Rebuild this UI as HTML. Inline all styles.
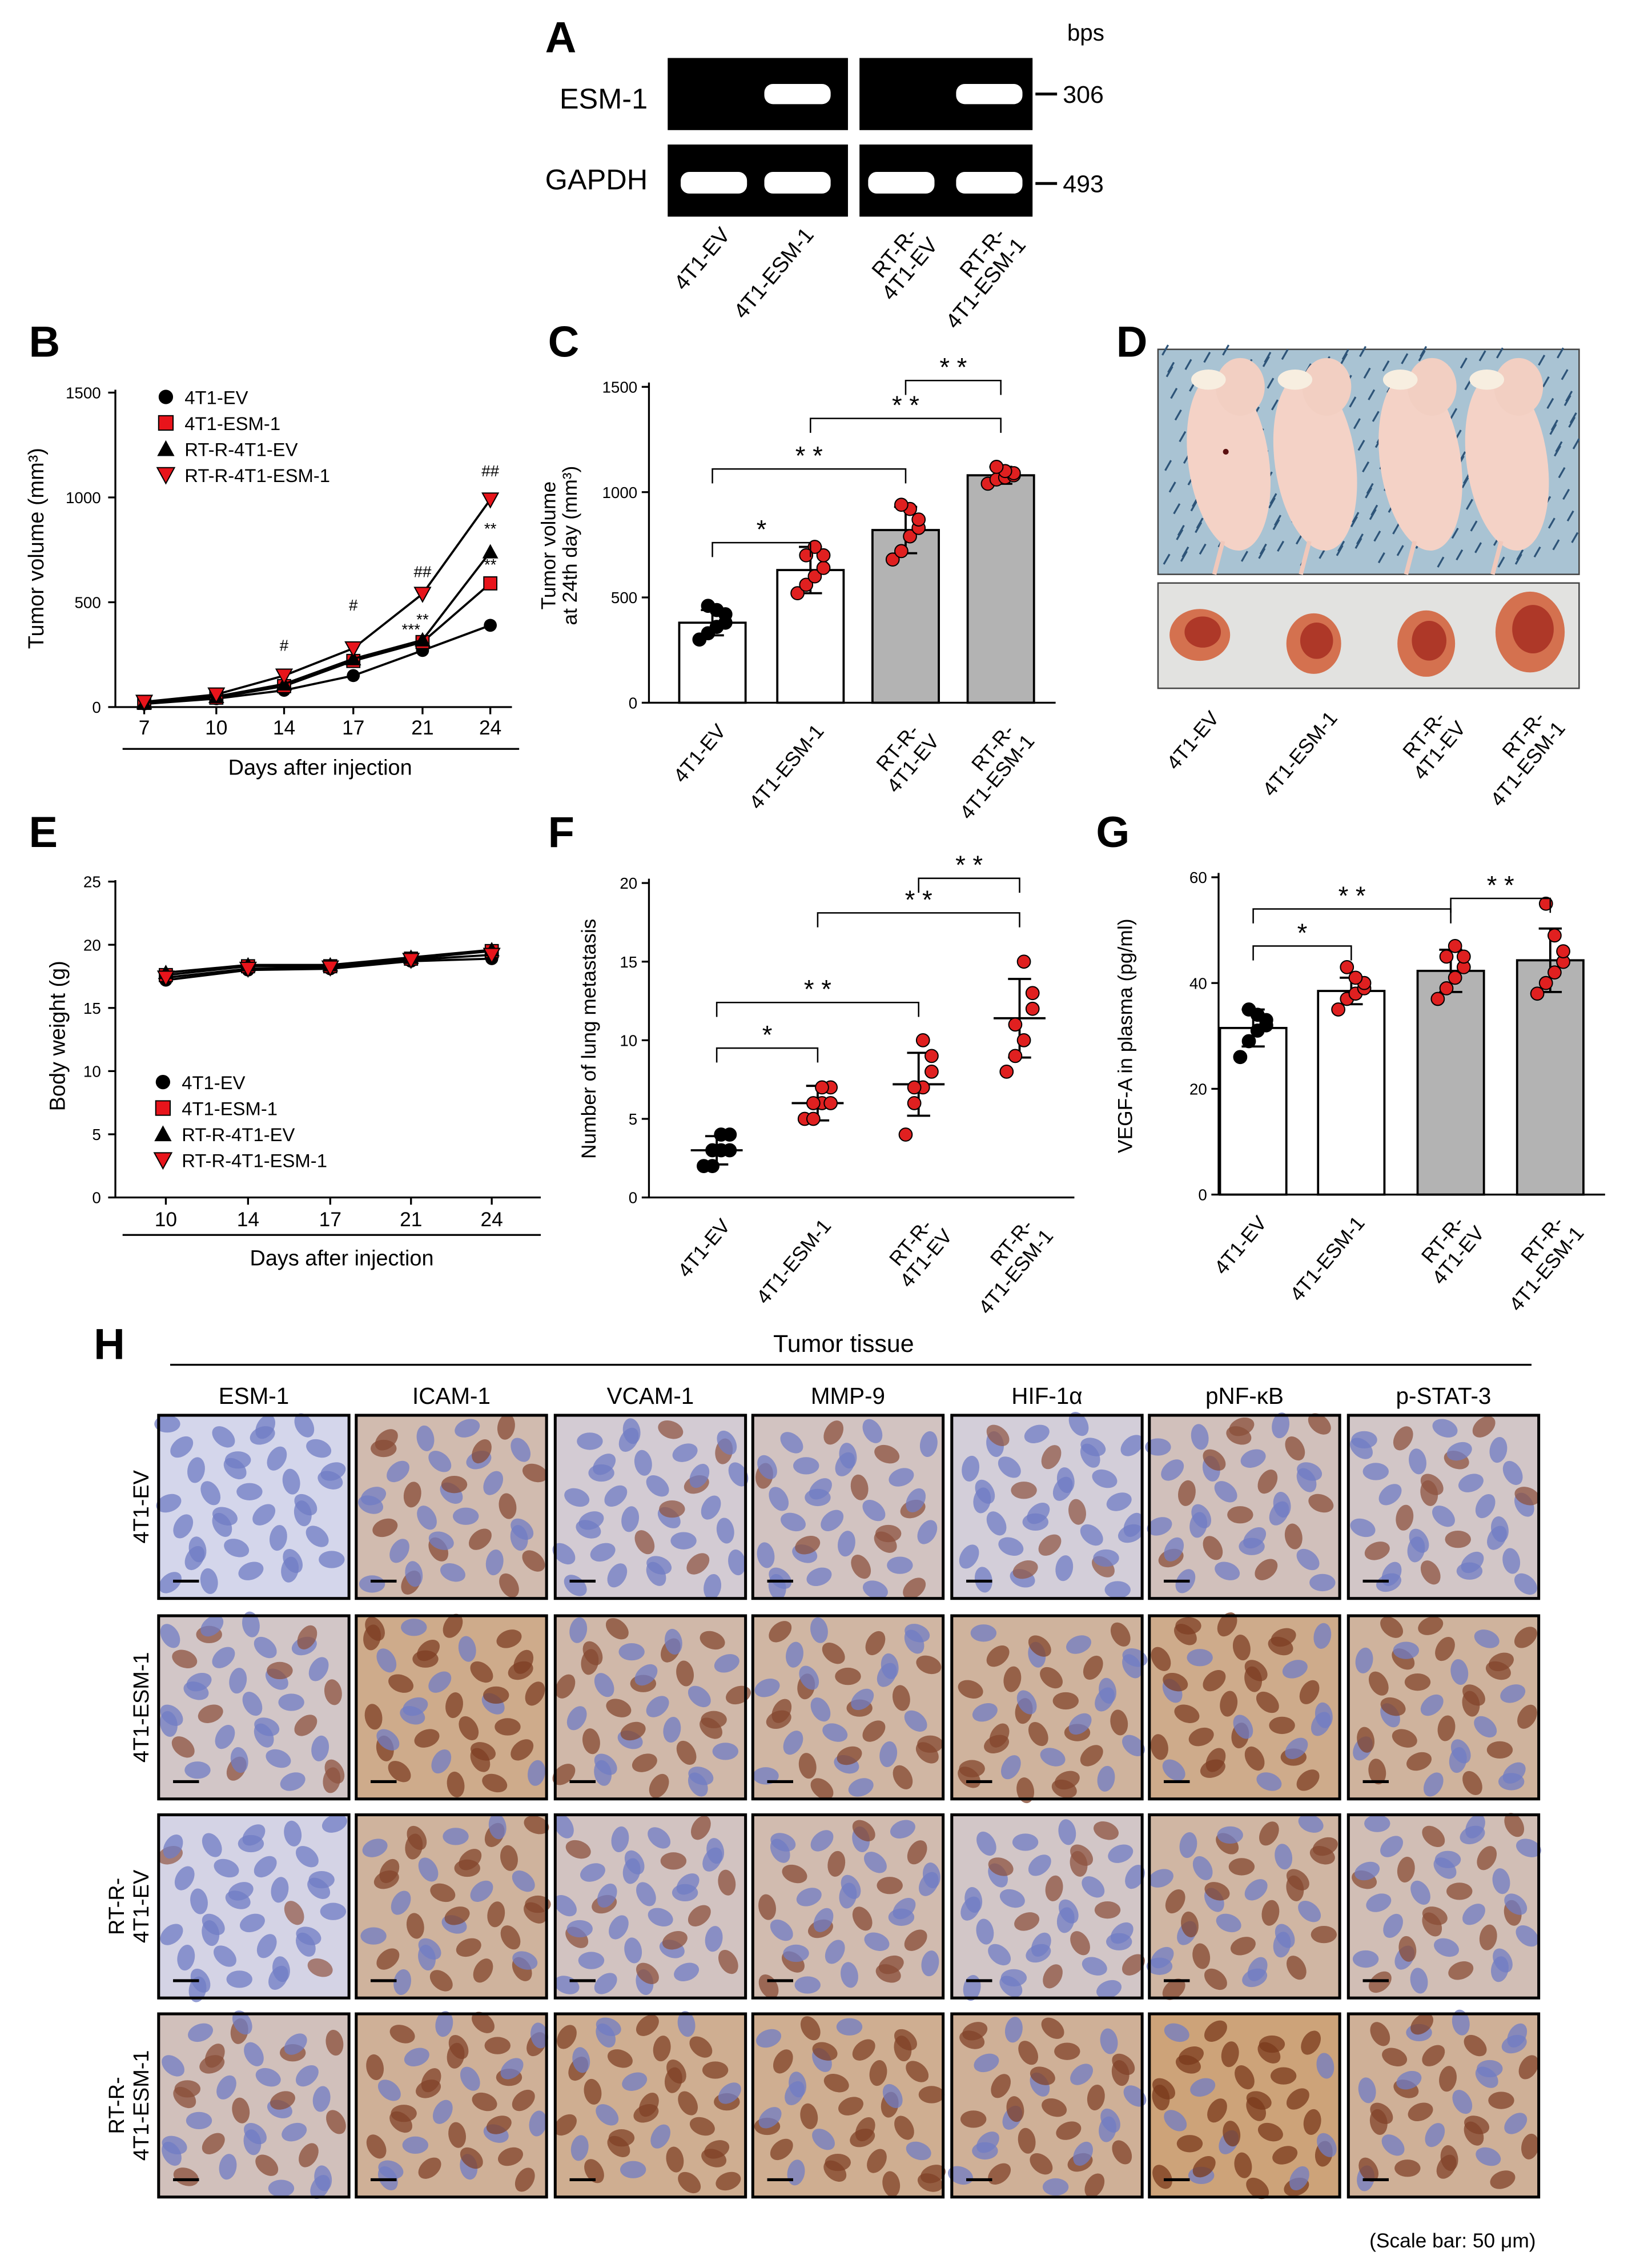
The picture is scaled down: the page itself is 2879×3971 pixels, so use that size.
<!DOCTYPE html>
<html><head><meta charset="utf-8">
<style>
html,body{margin:0;padding:0;background:#fff;}
svg{display:block;font-family:"Liberation Sans",Arial,sans-serif;}
</style></head>
<body>
<svg id="fig" width="2879" height="3971" viewBox="0 0 1140 1572" xmlns="http://www.w3.org/2000/svg"></svg>
<script>
// ---------- DATA ----------
const groups = ["4T1-EV","4T1-ESM-1","RT-R-4T1-EV","RT-R-4T1-ESM-1"];
const daysB = [7,10,14,17,21,24];
const volEV = [15,40,80,150,270,390];
const volESM = [20,45,100,220,310,590];
const volRTEV = [20,50,110,230,320,740];
const volRTESM = [25,60,150,280,540,990];
const daysE = [10,14,17,21,24];
const bwEV = [17.2,18.0,18.1,18.7,18.9];
const bwESM = [17.6,18.3,18.3,18.9,19.5];
const bwRTEV = [17.8,18.4,18.4,19.0,19.6];
const bwRTESM = [17.4,18.1,18.2,18.8,19.2];
const volMeans = [380,630,820,1080];
const volSD = [60,110,110,40];
const volDots = [[300,330,360,380,420,440,460],[520,560,600,640,700,740,700],[680,720,790,830,870,920,940],[1040,1060,1070,1080,1090,1100,1120]];
const metMeans = [3,6,7.2,11.4];
const metSD = [0.9,1.1,2,2.5];
const metDots = [[2,2,3,3,4,4,3],[5,5,6,6,7,7,6],[4,6,7,8,9,10,7],[8,9,10,12,13,15,11]];
const vegfMeans = [31.5,38.5,42.3,44.3];
const vegfSD = [3.5,2.5,4,6];
const vegfDots = [[26,29,31,32,33,34,35],[35,37,38,39,40,41,43],[37,39,41,43,45,47,45],[38,40,42,44,46,49,55]];
const ihcCols = ["ESM-1","ICAM-1","VCAM-1","MMP-9","HIF-1α","pNF-κB","p-STAT-3"];
const ihcRows = ["4T1-EV","4T1-ESM-1","RT-R-\n4T1-EV","RT-R-\n4T1-ESM-1"];

// ---------- HELPERS ----------
const svg = document.getElementById('fig');
const NS = "http://www.w3.org/2000/svg";
function el(tag, attrs, parent, txt){
  const e = document.createElementNS(NS, tag);
  for (const k in attrs) e.setAttribute(k, attrs[k]);
  if (txt !== undefined) e.textContent = txt;
  (parent||svg).appendChild(e);
  return e;
}
function grp(name){ const g = el('g',{});   return g; }
function text(x,y,s,size,parent,opts){
  const a = Object.assign({x:x,y:y,'font-size':size,fill:'#000'},opts||{});
  return el('text',a,parent,s);
}
function rotText(x,y,s,size,ang,parent,anchor){
  return el('text',{x:x,y:y,'font-size':size,transform:`rotate(${ang} ${x} ${y})`,'text-anchor':anchor||'end'},parent,s);
}
function line(x1,y1,x2,y2,parent,w){ return el('line',{x1,y1,x2,y2,stroke:'#000','stroke-width':w||1.3},parent); }
function panelLabel(x,y,s){ const t=text(x,y,s,30,svg,{'font-weight':'bold'});   }

function marker(type,x,y,parent,s){
  s = s||5;
  if(type==0) return el('circle',{cx:x,cy:y,r:s,fill:'#000'},parent);
  if(type==1) return el('rect',{x:x-s,y:y-s,width:2*s,height:2*s,fill:'#e8141b',stroke:'#000','stroke-width':0.8},parent);
  if(type==2) return el('polygon',{points:`${x},${y-s-1} ${x-s-1},${y+s} ${x+s+1},${y+s}`,fill:'#000'},parent);
  return el('polygon',{points:`${x-s-1},${y-s} ${x+s+1},${y-s} ${x},${y+s+1}`,fill:'#e8141b',stroke:'#000','stroke-width':0.8},parent);
}

// ---------- PANEL A ----------
panelLabel(378,36,'A');
(function(){
  const g = grp('gel-panel-a');
  const boxes=[[463,588],[596,716]];
  const rows=[[40,90],[100,150]];
  rows.forEach((r,ri)=>boxes.forEach(b=>el('rect',{x:b[0],y:r[0],width:b[1]-b[0],height:r[1]-r[0],fill:'#000'},g)));
  const lanes=[495,553,625,686];
  lanes.forEach((lx,i)=>{
    if(i%2==1) el('rect',{x:lx-23,y:58,width:46,height:14,rx:6,fill:'#fff'},g);
    el('rect',{x:lx-23,y:119,width:46,height:15,rx:6,fill:'#fff'},g);
    rotText(lx+12,163,groups[i].startsWith('RT')?'RT-R-':groups[i],15,-50,g);
    if(groups[i].startsWith('RT')) rotText(lx+26,170,groups[i].slice(5),15,-50,g);
  });
  text(388,75,'ESM-1',20,g); text(378,131,'GAPDH',20,g);
  text(740,28,'bps',16,g);
  line(718,65,733,65,g,2); text(737,71,'306',17,g);
  line(718,127,733,127,g,2); text(737,133,'493',17,g);
})();

// ---------- PANEL B ----------
panelLabel(20,247,'B');
(function(){
  const g = grp('tumor-volume-line-chart');
  const xMap={7:100,10:150,14:197,17:245,21:293,24:340};
  const X=d=>xMap[d], Y=v=>490-v*(218/1500);
  line(80,270,80,490,g); line(80,490,355,490,g);
  [0,500,1000,1500].forEach(t=>{line(75,Y(t),80,Y(t),g); text(70,Y(t)+4,t,11,g,{'text-anchor':'end'});});
  daysB.forEach(d=>{line(X(d),490,X(d),495,g); text(X(d),509,d,14,g,{'text-anchor':'middle'});});
  line(85,519,360,519,g); text(222,537,'Days after injection',15,g,{'text-anchor':'middle'});
  rotText(30,380,'Tumor volume (mm³)',15,-90,g,'middle');
  [volEV,volESM,volRTEV,volRTESM].forEach((s,si)=>{
    el('polyline',{points:daysB.map((d,i)=>X(d)+','+Y(s[i])).join(' '),fill:'none',stroke:'#000','stroke-width':1.5},g);
    daysB.forEach((d,i)=>{const m=marker(si,X(d),Y(s[i]),g,4.5);  });
  });
  [['#',197,451],['#',245,423],['##',293,400],['##',340,330],['**',340,370],['**',340,395],['**',293,433],['***',285,440]].forEach(a=>text(a[1],a[2],a[0],11,g,{'text-anchor':'middle'}));
  groups.forEach((n,i)=>{marker(i,115,275+i*18,g,5); text(128,280+i*18,n,13,g);});
})();

// ---------- bar chart helper ----------
function barChart(name,ax,y0,y1,maxV,ticks,means,sds,dots,grayFrom,bars,ylab,brackets,cx){
  const g=grp(name);
  const Y=v=>y0-v*((y0-y1)/maxV);
  line(ax,y1-3,ax,y0,g); line(ax,y0,cx[3]+38,y0,g);
  ticks.forEach(t=>{line(ax-5,Y(t),ax,Y(t),g); text(ax-8,Y(t)+4,t,11,g,{'text-anchor':'end'});});
  means.forEach((m,i)=>{
    const x=cx[i];
    if(bars){ const r=el('rect',{x:x-23,y:Y(m),width:46,height:y0-Y(m),fill:i>=grayFrom?'#b3b3b3':'#fff',stroke:'#000','stroke-width':1.5},g);   }
    else { line(x-18,Y(m),x+18,Y(m),g,1.5); }
    line(x,Y(m-sds[i]),x,Y(m+sds[i]),g,1.5);
    line(x-8,Y(m+sds[i]),x+8,Y(m+sds[i]),g,1.5);
    line(x-8,Y(m-sds[i]),x+8,Y(m-sds[i]),g,1.5);
    dots[i].forEach((d,j)=>{const off=((j%4)-1.5)*6*(j<4?1:-1);
      el('circle',{cx:x+off,cy:Y(d),r:4.5,fill:i==0?'#000':'#e02020',stroke:'#000','stroke-width':0.8},g);});
    rotText(x+10,y0+20,groups[i].startsWith('RT')?'RT-R-':groups[i],14,-50,g);
    if(groups[i].startsWith('RT')) rotText(x+24,y0+27,groups[i].slice(5),14,-50,g);
  });
  brackets.forEach(b=>{
    const [a,c,yy,lab]=b; const yp=Y(yy);
    el('polyline',{points:`${cx[a]},${yp+10} ${cx[a]},${yp} ${cx[c]},${yp} ${cx[c]},${yp+10}`,fill:'none',stroke:'#000','stroke-width':1},g);
    text((cx[a]+cx[c])/2,yp-3,lab,18,g,{'text-anchor':'middle'});
  });
  rotText(ylab[1],ylab[2],ylab[0],14,-90,g,'middle');
  if(ylab[3]) rotText(ylab[1]+15,ylab[2],ylab[3],14,-90,g,'middle');
  return g;
}
panelLabel(380,247,'C');
barChart('tumor-volume-bar-chart',450,487,268,1500,[0,500,1000,1500],volMeans,volSD,volDots,2,true,
  ['Tumor volume',385,378,'at 24th day (mm³)'],[[0,1,760,'*'],[0,2,1110,'* *'],[1,3,1350,'* *'],[2,3,1530,'* *']],[494,562,628,694]);
panelLabel(760,587,'G');
barChart('vegf-bar-chart',845,828,608,60,[0,20,40,60],vegfMeans,vegfSD,vegfDots,2,true,
  ['VEGF-A in plasma (pg/ml)',785,718],[[0,1,47,'*'],[0,2,54,'* *'],[2,3,56,'* *']],[869,937,1006,1075]);
panelLabel(380,587,'F');
barChart('lung-metastasis-scatter',450,830,612,20,[0,5,10,15,20],metMeans,metSD,metDots,9,false,
  ['Number of lung metastasis',413,720],[[0,1,9.5,'*'],[0,2,12.4,'* *'],[1,3,18.1,'* *'],[2,3,20.3,'* *']],[497,567,637,707]);

// ---------- PANEL D ----------
panelLabel(774,247,'D');
(function(){
  const g=grp('mouse-photos');
  el('rect',{x:803,y:242,width:292,height:156,fill:'#a9c3d3',stroke:'#444'},g);
  for(let i=0;i<260;i++){
    const px=806+(i*37)%286, py=246+(i*53)%148;
    el('line',{x1:px,y1:py,x2:px+4,y2:py-7,stroke:'#2e5478','stroke-width':1.3},g);
  }
  [[852,0],[912,0],[985,0],[1045,0]].forEach((m,i)=>{
    const x=m[0];
    el('ellipse',{cx:x,cy:320,rx:28,ry:62,fill:'#f4d2c6',transform:`rotate(-8 ${x} 320)`},g);
    el('ellipse',{cx:x+8,cy:268,rx:17,ry:20,fill:'#f2cfc2'},g);
    el('ellipse',{cx:x-14,cy:263,rx:12,ry:7,fill:'#f7eee0'},g);
    el('line',{x1:x-4,y1:375,x2:x-10,y2:398,stroke:'#f0c8bb','stroke-width':3},g);
  });
  el('circle',{cx:850,cy:313,r:2,fill:'#5a1010'},g);
  el('rect',{x:803,y:404,width:292,height:73,fill:'#e2e2e0',stroke:'#444'},g);
  [[832,440,21,18],[911,446,19,21],[989,446,20,23],[1061,438,24,28]].forEach(t=>{
    el('ellipse',{cx:t[0],cy:t[1],rx:t[2],ry:t[3],fill:'#d4714f'},g);
    el('ellipse',{cx:t[0]+2,cy:t[1]-2,rx:t[2]*0.6,ry:t[3]*0.6,fill:'#a42a1e',opacity:0.8},g);
  });
  [836,918,993,1062].forEach((x,i)=>{
    rotText(x+10,498,groups[i].startsWith('RT')?'RT-R-':groups[i],14,-50,g);
    if(groups[i].startsWith('RT')) rotText(x+24,505,groups[i].slice(5),14,-50,g);
  });
})();

// ---------- PANEL E ----------
panelLabel(20,587,'E');
(function(){
  const g=grp('body-weight-line-chart');
  const xMap={10:115,14:172,17:229,21:285,24:341};
  const X=d=>xMap[d], Y=v=>830-v*(219/25);
  line(80,610,80,830,g); line(80,830,375,830,g);
  [0,5,10,15,20,25].forEach(t=>{line(75,Y(t),80,Y(t),g); text(70,Y(t)+4,t,11,g,{'text-anchor':'end'});});
  daysE.forEach(d=>{line(X(d),830,X(d),835,g); text(X(d),850,d,14,g,{'text-anchor':'middle'});});
  line(85,856,375,856,g); text(237,877,'Days after injection',15,g,{'text-anchor':'middle'});
  rotText(45,718,'Body weight (g)',15,-90,g,'middle');
  [bwEV,bwESM,bwRTEV,bwRTESM].forEach((s,si)=>{
    el('polyline',{points:daysE.map((d,i)=>X(d)+','+Y(s[i])).join(' '),fill:'none',stroke:'#000','stroke-width':1.5},g);
    daysE.forEach((d,i)=>marker(si,X(d),Y(s[i]),g,4.5));
  });
  groups.forEach((n,i)=>{marker(i,113,750+i*18,g,5); text(126,755+i*18,n,13,g);});
})();

// ---------- PANEL H ----------
panelLabel(65,942,'H');
(function(){
  const g=grp('ihc-grid');
  text(585,937,'Tumor tissue',17,g,{'text-anchor':'middle'});
  line(118,946,1062,946,g,1.3);
  const colX=[110,247,385,522,660,797,935], rowY=[981,1120,1258,1396], W=132, H=127;
  const stain=[[0,0.5,0.2,0.35,0.15,0.4,0.3],[0.3,0.8,0.55,0.6,0.65,0.8,0.65],[0.05,0.65,0.35,0.5,0.3,0.6,0.45],[0.4,0.7,0.75,0.75,0.7,0.95,0.7]];
  ihcCols.forEach((c,ci)=>text(colX[ci]+W/2,973,c,16,g,{'text-anchor':'middle'}));
  ihcRows.forEach((r,ri)=>{
    const parts=r.split('\n'); const cy=rowY[ri]+H/2;
    if(parts.length==1) rotText(103,cy,parts[0],15,-90,g,'middle');
    else {rotText(86,cy,parts[0],15,-90,g,'middle'); rotText(103,cy,parts[1],15,-90,g,'middle');}
    ihcCols.forEach((c,ci)=>{
      const s=stain[ri][ci], x=colX[ci], y=rowY[ri];
      const t=el('g',{},g);  
      const mix=(a,b)=>Math.round(a+(b-a)*s);
      el('rect',{x,y,width:W,height:H,fill:`rgb(${mix(212,205)},${mix(214,160)},${mix(235,115)})`},t);
      for(let k=0;k<34;k++){
        const px=x+6+((k*47+ci*13+ri*29)%122), py=y+6+((k*31+ci*17+ri*7)%116);
        const brown = ((k*7+ci+ri)%10)/10 < s*0.8;
        el('ellipse',{cx:px,cy:py,rx:9,ry:6,fill:brown?`rgb(${mix(150,120)},${mix(95,55)},${mix(80,25)})`:'rgb(112,124,196)',opacity:0.75,transform:`rotate(${(k*40)%180} ${px} ${py})`},t);
      }
      el('rect',{x,y,width:W,height:H,fill:'none',stroke:'#000','stroke-width':2},t);
      line(x+10,y+H-12,x+28,y+H-12,t,2);
    });
  });
  text(1065,1558,'(Scale bar: 50 μm)',14,g,{'text-anchor':'end'});
})();
</script>
</body></html>
